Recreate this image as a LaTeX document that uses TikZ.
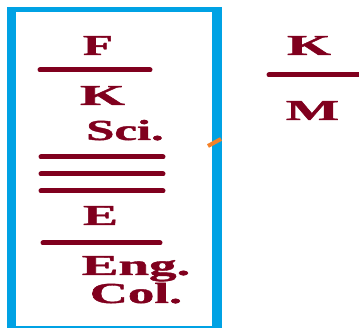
\documentclass[tikz,border=0pt]{standalone}
\usepackage{fontspec}
\setmainfont{Liberation Serif}
\newfontfamily\heavyserif{Liberation Serif Bold}[FakeBold=1.2]
\usepackage{graphicx}
\definecolor{frameblue}{RGB}{0,162,228}
\definecolor{darkred}{RGB}{128,0,30}
\definecolor{tickorange}{RGB}{245,130,40}
\tikzset{
  lbl/.style={anchor=base,inner sep=0pt,text=darkred,font=\fontsize{29}{31}\heavyserif},
  bar/.style={draw=darkred,line width=5pt,line cap=round}
}
\newcommand{\wide}[2]{\scalebox{#1}[1]{#2}}
\begin{document}
\begin{tikzpicture}[x=1pt,y=-1pt]
\useasboundingbox (0,0) rectangle (359,328);
% frame
\fill[frameblue] (7,7) rectangle (222,328);
\fill[white] (16,12) rectangle (212,326);
% orange tick
\coordinate (t1) at (208,146);
\coordinate (t2) at (221,139);
\draw[tickorange,line width=4pt] (t1) -- (t2);
% left column texts
\node[lbl] (F) at (98,55) {\wide{1.7}{F}};
\node[lbl] (K) at (102.5,105) {\wide{2.0}{K}};
\node[lbl] (Sci) at (125,140) {\wide{1.75}{Sci.}};
\node[lbl] (E) at (100.5,225) {\wide{1.8}{E}};
\node[lbl] (Eng) at (136,275) {\wide{1.9}{Eng.}};
\node[lbl] (Col) at (136,303) {\wide{1.82}{Col.}};
% bars
\coordinate (a1) at (40,70); \coordinate (a2) at (150,70);
\coordinate (b1) at (41,157); \coordinate (b2) at (163,157);
\coordinate (c1) at (41,174); \coordinate (c2) at (163,174);
\coordinate (d1) at (41,191); \coordinate (d2) at (163,191);
\coordinate (e1) at (43,243); \coordinate (e2) at (160,243);
\draw[bar] (a1) -- (a2);
\draw[bar] (b1) -- (b2);
\draw[bar] (c1) -- (c2);
\draw[bar] (d1) -- (d2);
\draw[bar] (e1) -- (e2);
% right fraction
\node[lbl] (K2) at (309,55) {\wide{1.95}{K}};
\node[lbl] (M) at (312.5,120) {\wide{1.95}{M}};
\coordinate (f1) at (269,75); \coordinate (f2) at (362,75);
\draw[bar] (f1) -- (f2);
\end{tikzpicture}
\end{document}
